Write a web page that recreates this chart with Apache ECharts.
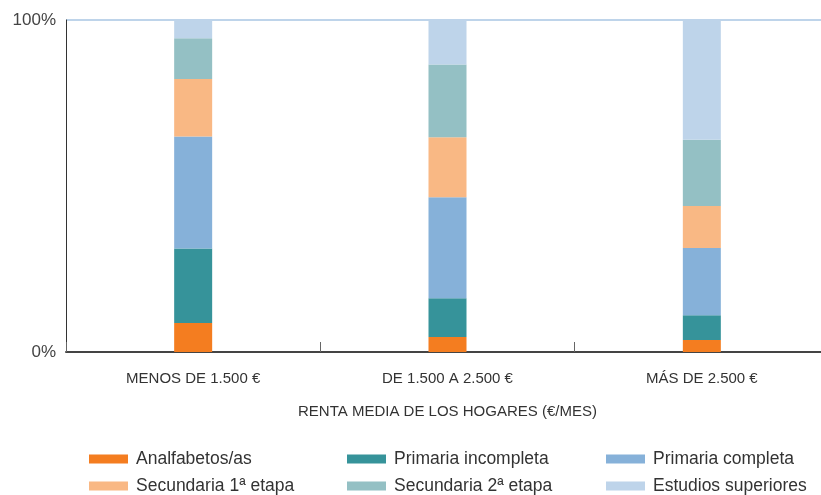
<!DOCTYPE html>
<html><head><meta charset="utf-8">
<script src="https://cdn.jsdelivr.net/npm/echarts@6/dist/echarts.min.js"></script>
<style>html,body{margin:0;padding:0;background:#fff;overflow:hidden;width:821px;height:495px}#c{width:840px;height:495px}</style>
</head><body><div id="c"></div>
<script>
const categories = ['MENOS DE 1.500 €', 'DE 1.500 A 2.500 €', 'MÁS DE 2.500 €'];
const seriesNames = ['Analfabetos/as', 'Primaria incompleta', 'Primaria completa', 'Secundaria 1ª etapa', 'Secundaria 2ª etapa', 'Estudios superiores'];
const analfabetos = [8.7, 4.5, 3.6];
const primariaIncompleta = [22.5, 11.7, 7.5];
const primariaCompleta = [33.7, 30.4, 20.2];
const secundaria1 = [17.3, 18.1, 12.7];
const secundaria2 = [12.3, 21.9, 19.9];
const estudiosSuperiores = [5.5, 13.4, 36.1];
const yTicks = [0, 100];
const colors = ['#f47d20', '#36939a', '#86b1d9', '#f9b884', '#94c0c4', '#bed4ea'];
const values = [analfabetos, primariaIncompleta, primariaCompleta, secundaria1, secundaria2, estudiosSuperiores];

const chart = echarts.init(document.getElementById('c'), null, {renderer: 'canvas'});
const font = 'Liberation Sans, Arial, sans-serif';
const legendPos = [[89, 450], [347, 450], [606, 450], [89, 477], [347, 477], [606, 477]];
chart.setOption({
  animation: false,
  color: colors,
  grid: {left: 66, top: 20, width: 763, height: 332},
  legend: seriesNames.map((n, i) => ({
    left: legendPos[i][0], top: legendPos[i][1], data: [n], padding: 0,
    itemWidth: 39, itemHeight: 9, icon: 'rect',
    textStyle: {fontFamily: font, fontSize: 17.5, color: '#333', padding: [0, 0, 0, 3]}
  })),
  xAxis: {
    type: 'category', data: categories,
    axisLine: {lineStyle: {color: '#444', width: 2}},
    axisTick: {show: true, inside: true, length: 10, lineStyle: {color: '#666', width: 1}},
    axisLabel: {margin: 19, fontFamily: font, fontSize: 15, color: '#333'},
    name: 'RENTA MEDIA DE LOS HOGARES (€/MES)',
    nameLocation: 'middle', nameGap: 52,
    nameTextStyle: {fontFamily: font, fontSize: 15, color: '#333'}
  },
  yAxis: {
    type: 'value', min: yTicks[0], max: yTicks[1], interval: 100,
    axisLine: {show: true, lineStyle: {color: '#333', width: 1}},
    axisTick: {show: false},
    axisLabel: {margin: 10, fontFamily: font, fontSize: 17, color: '#444', formatter: v => v + '%'},
    splitLine: {show: true, lineStyle: {color: '#bed4ea', width: 2}}
  },
  series: seriesNames.map((n, i) => ({
    name: n, type: 'bar', stack: 'total', barWidth: 38,
    data: values[i], itemStyle: {color: colors[i]}
  }))
});
</script></body></html>
